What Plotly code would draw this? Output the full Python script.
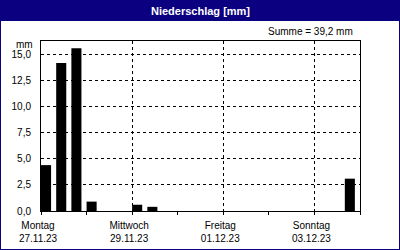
import plotly.graph_objects as go

# Data: 8-hour precipitation sums (hours since Monday 27.11.23 00:00)
hours = [0, 8, 16, 24, 48, 56, 160]
precip_mm = [4.4, 14.2, 15.6, 0.9, 0.6, 0.4, 3.1]

major_tick_hours = [0, 48, 96, 144]
major_tick_labels = ["Montag<br>27.11.23", "Mittwoch<br>29.11.23",
                     "Freitag<br>01.12.23", "Sonntag<br>03.12.23"]
minor_tick_hours = [24, 72, 120, 168]
y_ticks = [0, 2.5, 5, 7.5, 10, 12.5, 15]

title_text = "Niederschlag [mm]"
sum_text = "Summe = 39,2 mm"
unit_text = "mm"

W, H = 400, 250
FONT = "Liberation Sans"
NAVY = "#0a0080"

fig = go.Figure()
fig.add_trace(go.Bar(
    x=hours, y=precip_mm, width=5.3, offset=0,
    marker=dict(color="black", line=dict(width=0)),
    hoverinfo="skip",
))

px = lambda v: v / W
py = lambda v: 1 - v / H

fig.update_layout(
    width=W, height=H, autosize=False,
    margin=dict(l=0, r=0, t=0, b=0, pad=0),
    paper_bgcolor="white", plot_bgcolor="white",
    showlegend=False,
    separators=",.",
    font=dict(family=FONT, size=10, color="black"),
    xaxis=dict(
        domain=[px(41), px(360)], automargin=False,
        range=[0, 168],
        tickmode="array", tickvals=major_tick_hours, ticktext=major_tick_labels,
        ticks="outside", ticklen=3, tickcolor="black", tickwidth=1,
        showgrid=True, gridcolor="black", gridwidth=1, griddash="3px,3px",
        showline=True, linecolor="black", linewidth=1, mirror=True,
        zeroline=False,
        ticklabelshift=-3, ticklabelstandoff=2,
        minor=dict(tickvals=minor_tick_hours, ticks="outside", ticklen=3,
                   tickcolor="black", showgrid=False),
    ),
    yaxis=dict(
        domain=[py(211), py(41)], automargin=False,
        range=[0, 16.3],
        tickmode="array", tickvals=y_ticks, tickformat=".1f",
        ticks="", showgrid=True, gridcolor="black", gridwidth=1, griddash="3px,3px",
        showline=True, linecolor="black", linewidth=1, mirror=True,
        zeroline=False, ticklabelstandoff=7,
    ),
    shapes=[
        dict(type="rect", xref="paper", yref="paper", x0=0, x1=1, y0=py(21), y1=1,
             fillcolor=NAVY, line=dict(width=0), layer="above"),
        dict(type="rect", xref="paper", yref="paper", x0=0, x1=px(1), y0=0, y1=1,
             fillcolor=NAVY, line=dict(width=0), layer="above"),
        dict(type="rect", xref="paper", yref="paper", x0=px(399), x1=1, y0=0, y1=1,
             fillcolor=NAVY, line=dict(width=0), layer="above"),
        dict(type="rect", xref="paper", yref="paper", x0=0, x1=1, y0=0, y1=py(249),
             fillcolor=NAVY, line=dict(width=0), layer="above"),
    ],
    annotations=[
        dict(text=f"<b>{title_text}</b>", xref="paper", yref="paper",
             x=0.5, y=py(10.5), xanchor="center", yanchor="middle", showarrow=False,
             font=dict(family=FONT, size=11, color="white")),
        dict(text=sum_text, xref="paper", yref="paper",
             x=px(355), y=py(31), xanchor="right", yanchor="middle", showarrow=False,
             font=dict(family=FONT, size=10, color="black")),
        dict(text=unit_text, xref="paper", yref="paper",
             x=px(24.5), y=py(44.5), xanchor="center", yanchor="middle", showarrow=False,
             font=dict(family=FONT, size=10, color="black")),
    ],
)

fig.write_html("out.html", config={"displayModeBar": False})
